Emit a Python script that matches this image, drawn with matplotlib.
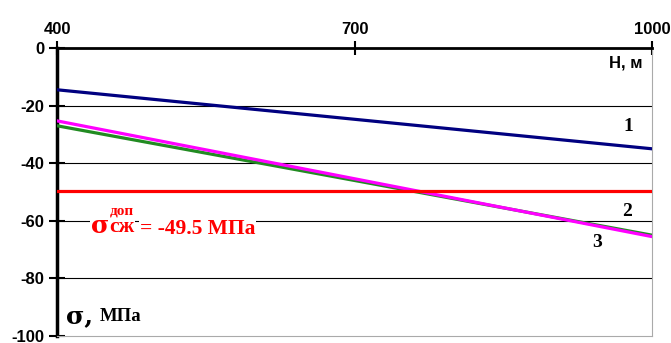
import matplotlib
matplotlib.use("Agg")
import matplotlib.pyplot as plt

plt.rcParams["axes.unicode_minus"] = False

# глубина H, м
depth = [400, 1000]
line1 = [-14.5, -35.0]
line2 = [-27.0, -65.0]
line3 = [-25.3, -65.5]
sigma_dop = -49.5

xticks = [400, 700, 1000]
yticks = [0, -20, -40, -60, -80, -100]

fig = plt.figure(figsize=(6.71, 3.43), dpi=100)
ax = fig.add_axes([0.085, 0.0204, 0.887, 0.8396])

ax.set_xlim(400, 1000)
ax.set_ylim(-100, 0)

for y in yticks[1:-1]:
    ax.axhline(y, color="black", lw=0.8, zorder=1)

ax.plot(depth, line2, color="#228b22", lw=2.3, zorder=3)
ax.plot(depth, line3, color="#ff00ff", lw=2.3, zorder=4)
ax.plot(depth, line1, color="#000080", lw=2.3, zorder=3)
ax.axhline(sigma_dop, color="#ff0000", lw=2.3, zorder=5)

ax.xaxis.tick_top()
ax.set_xticks(xticks)
ax.set_yticks(yticks)
ax.tick_params(axis="x", direction="inout", length=10, width=1.5, pad=3)
ax.tick_params(axis="y", direction="inout", length=12, width=1.5, pad=3)
for lab in ax.get_xticklabels() + ax.get_yticklabels():
    lab.set_fontfamily("Liberation Sans")
    lab.set_fontweight("bold")
    lab.set_fontsize(12)

ax.spines["top"].set_linewidth(2)
ax.spines["left"].set_linewidth(2.5)
ax.spines["right"].set_color("#aaaaaa")
ax.spines["bottom"].set_color("#aaaaaa")

serif = "Liberation Serif"
tf = dict(fontfamily=serif, fontweight="bold", fontsize=14)
ax.text(976, -27.4, "1", ha="center", va="center", **tf)
ax.text(975, -56.6, "2", ha="center", va="center", **tf)
ax.text(944.5, -67.7, "3", ha="center", va="center", **tf)

ax.text(990.5, -5.2, "H, м", fontfamily="Liberation Sans", fontweight="bold",
        fontsize=12, ha="right", va="center")

# подпись оси напряжений
ax.text(409, -93.0, "σ,", fontfamily="DejaVu Serif", fontweight="bold",
        fontsize=18, va="center", ha="left")
ax.text(443.4, -93.4, "МПа", fontfamily=serif, fontweight="bold",
        fontsize=13.5, va="center", ha="left")

# допустимое напряжение
red = "#ff0000"
wb = dict(facecolor="white", edgecolor="none", pad=0.5)
ax.text(434, -61.8, "σ", color=red, fontfamily="DejaVu Serif",
        fontweight="bold", fontsize=18, va="center", ha="left", zorder=6,
        bbox=wb)
ax.text(453.4, -56.6, "доп", color=red, fontfamily=serif,
        fontweight="bold", fontsize=11, va="center", ha="left", zorder=7)
ax.text(452.4, -62.3, "сж", color=red, fontfamily=serif,
        fontweight="bold", fontsize=15.5, va="center", ha="left", zorder=6,
        bbox=wb)
ax.text(483.7, -62.8, "= -49.5 МПа", color=red, fontfamily=serif,
        fontweight="bold", fontsize=15.5, va="center", ha="left", zorder=6,
        bbox=wb)

fig.savefig("out.png", dpi=100)
